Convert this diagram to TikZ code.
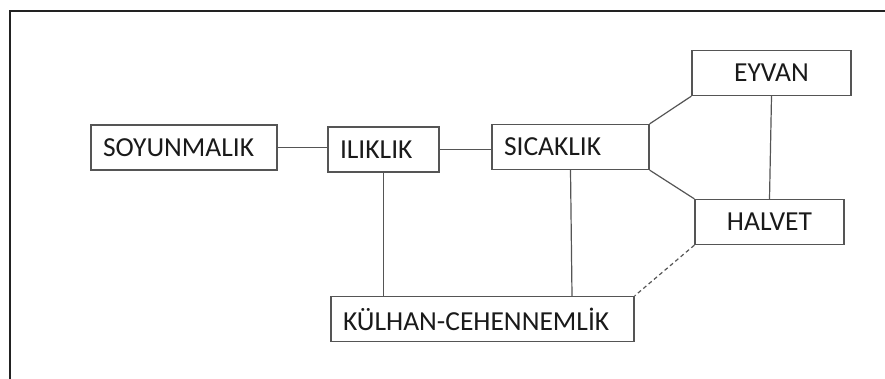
\documentclass[tikz,border=0pt]{standalone}
\usepackage{fontspec}
\setmainfont{Carlito}
\usetikzlibrary{calc}
\definecolor{boxline}{HTML}{555555}
\definecolor{frameline}{HTML}{222222}
\definecolor{txt}{HTML}{1A1A1A}
\begin{document}
\begin{tikzpicture}[x=1pt,y=-1pt,
  roombox/.style={draw=boxline, line width=1.3pt, minimum height=45pt, inner xsep=12pt, inner ysep=0pt,
    text=txt, font=\fontsize{27.5}{30}\selectfont, align=left},
  cbox/.style={roombox, align=center},
  link/.style={draw=boxline, line width=1.2pt},
  dlink/.style={link, dash pattern=on 4pt off 3pt}]
\useasboundingbox (0,0) rectangle (885,378);
\draw[frameline, line width=2pt] (10,379) -- (10,11) -- (886,11);
\node[roombox, text width=162pt] (soy) at (184,147.5) {SOYUNMALIK};
\node[roombox, text width=87pt] (ilik) at (383.5,149.5) {ILIKLIK};
\node[roombox, text width=133pt] (sic) at (570.5,147) {SICAKLIK};
\node[cbox, text width=135pt] (eyvan) at (771.5,73) {EYVAN};
\node[cbox, text width=125pt] (halvet) at (769.5,222) {HALVET};
\node[roombox, text width=279pt] (kulhan) at (482.5,319) {KÜLHAN-CEHENNEMLİK};
\draw[link] (soy.east) -- (soy.east -| ilik.west);
\draw[link] (ilik.east) -- (ilik.east -| sic.west);
\draw[link] (ilik.south) -- (ilik.south |- kulhan.north);
\draw[link] (sic.south) -- ([xshift=1.5pt]sic.south |- kulhan.north);
\draw[link] (sic.north east) -- (eyvan.south west);
\draw[link] (sic.south east) -- (halvet.north west);
\draw[link] (eyvan.south) -- (halvet.north);
\draw[dlink] (halvet.south west) -- (kulhan.north east);
\end{tikzpicture}
\end{document}
